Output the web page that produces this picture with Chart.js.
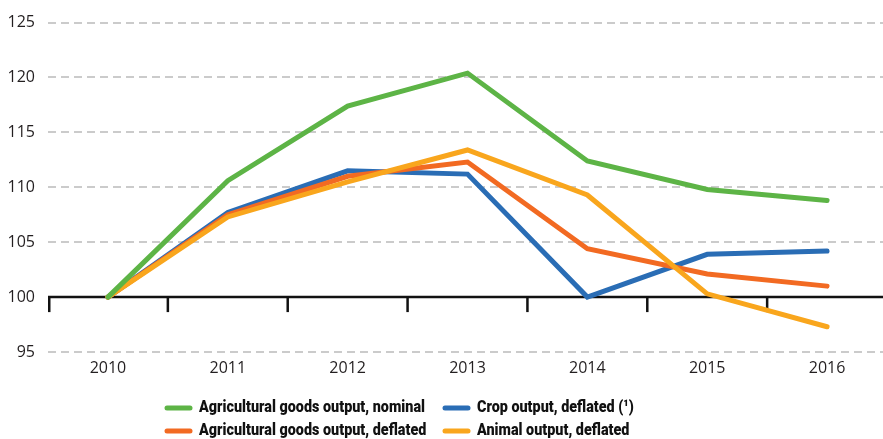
<!DOCTYPE html>
<html>
<head>
<meta charset="utf-8">
<script src="https://cdn.jsdelivr.net/npm/chart.js@4.4.1/dist/chart.umd.min.js"></script>
<style>
  html, body { margin: 0; padding: 0; background: #fff; overflow: hidden; }
  #wrap { position: relative; width: 887px; height: 450px; }
</style>
</head>
<body>
<div id="wrap"><canvas id="c"></canvas></div>
<script>
const years = ['2010', '2011', '2012', '2013', '2014', '2015', '2016'];
const agriNominal  = [100, 110.6, 117.4, 120.4, 112.4, 109.8, 108.8];
const cropDeflated = [100, 107.7, 111.5, 111.2, 100.0, 103.9, 104.2];
const agriDeflated = [100, 107.5, 111.0, 112.3, 104.4, 102.1, 101.0];
const animalDeflated = [100, 107.3, 110.5, 113.4, 109.3, 100.3, 97.3];
const seriesLabels = [
  'Agricultural goods output, nominal',
  'Crop output, deflated (\u00B9)',
  'Agricultural goods output, deflated',
  'Animal output, deflated'
];
const yMin = 95, yMax = 125, yStep = 5, baseValue = 100;

const colors = ['#5db446', '#2a6db5', '#f26a22', '#f9a61d'];
const legendSlots = [[0, 0], [1, 0], [0, 1], [1, 1]];

const baseLinePlugin = {
  id: 'baseLine',
  beforeDatasetsDraw(chart) {
    const {ctx, scales: {x, y}, chartArea} = chart;
    const yp = y.getPixelForValue(baseValue);
    ctx.save();
    ctx.strokeStyle = '#111';
    ctx.lineWidth = 2.5;
    ctx.beginPath();
    ctx.moveTo(chartArea.left, yp);
    ctx.lineTo(chartArea.right + 5, yp);
    ctx.stroke();
    const n = years.length;
    const half = (x.getPixelForValue(1) - x.getPixelForValue(0)) / 2;
    for (let i = 0; i <= n; i++) {
      const xp = (i < n ? x.getPixelForValue(i) - half : x.getPixelForValue(n - 1) + half);
      const xx = i === 0 ? xp + 1.25 : xp;
      ctx.beginPath();
      ctx.moveTo(xx, yp);
      ctx.lineTo(xx, yp + 15);
      ctx.stroke();
    }
    ctx.restore();
  }
};

const legendPlugin = {
  id: 'customLegend',
  afterDraw(chart) {
    const ctx = chart.ctx;
    ctx.save();
    ctx.font = '900 17px Roboto, "Noto Sans", sans-serif';
    ctx.textBaseline = 'middle';
    ctx.textAlign = 'left';
    const squeeze = 226 / ctx.measureText(seriesLabels[0]).width;
    const colX = [165, 443];
    const rowY = [408, 431];
    chart.data.datasets.forEach((ds, i) => {
      const [c, r] = legendSlots[i];
      const x0 = colX[c], yy = rowY[r];
      ctx.strokeStyle = ds.borderColor;
      ctx.lineWidth = 5;
      ctx.lineCap = 'round';
      ctx.beginPath();
      ctx.moveTo(x0 + 2, yy);
      ctx.lineTo(x0 + 25, yy);
      ctx.stroke();
      ctx.save();
      ctx.translate(x0 + 34, yy);
      ctx.scale(squeeze, 1);
      ctx.fillStyle = '#111';
      ctx.fillText(ds.label, 0, 0);
      ctx.restore();
    });
    ctx.restore();
  }
};

const mk = (label, data, color, order) => ({
  label, data, borderColor: color, backgroundColor: color,
  borderWidth: 5, pointRadius: 0, pointHoverRadius: 0,
  borderCapStyle: 'round', borderJoinStyle: 'miter', tension: 0, order
});

new Chart(document.getElementById('c'), {
  type: 'line',
  data: {
    labels: years,
    datasets: [
      mk(seriesLabels[0], agriNominal, colors[0], 0),
      mk(seriesLabels[1], cropDeflated, colors[1], 3),
      mk(seriesLabels[2], agriDeflated, colors[2], 2),
      mk(seriesLabels[3], animalDeflated, colors[3], 1)
    ]
  },
  options: {
    responsive: true,
    maintainAspectRatio: false,
    animation: false,
    layout: { padding: { top: 22, right: 0, left: 0, bottom: 68 } },
    plugins: { legend: { display: false }, tooltip: { enabled: false } },
    scales: {
      x: {
        type: 'category',
        offset: true,
        grid: { display: false, drawTicks: false },
        border: { display: false },
        ticks: { color: '#231f20', font: { family: '"Open Sans", sans-serif', size: 16 }, padding: 7, maxRotation: 0 },
        afterFit(scale) { scale.height = 30; }
      },
      y: {
        min: yMin, max: yMax,
        ticks: { stepSize: yStep, color: '#231f20', font: { family: '"Open Sans", sans-serif', size: 16 }, padding: 13 },
        grid: {
          drawTicks: false,
          lineWidth: 2,
          color: (ctx) => (ctx.tick && ctx.tick.value === baseValue) ? 'rgba(0,0,0,0)' : '#cbcbcb'
        },
        border: { display: false, dash: [8, 5] },
        afterFit(scale) { scale.width = 48; }
      }
    }
  },
  plugins: [baseLinePlugin, legendPlugin]
});
</script>
</body>
</html>
